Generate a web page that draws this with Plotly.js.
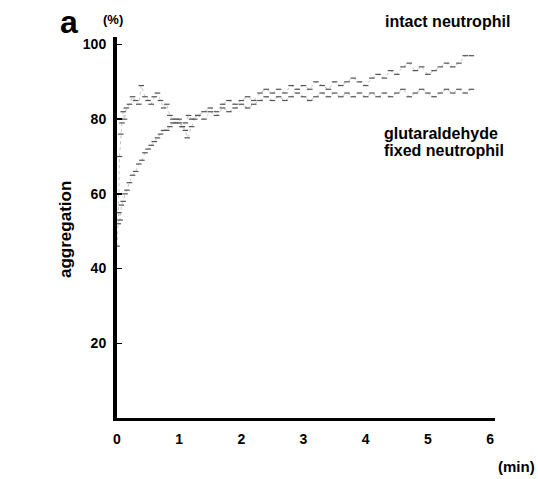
<!DOCTYPE html>
<html>
<head>
<meta charset="utf-8">
<script src="https://cdn.plot.ly/plotly-3.0.1.min.js"></script>
<style>html,body{margin:0;padding:0;background:#fff;}#chart{width:538px;height:479px;}</style>
</head>
<body>
<div id="chart"></div>
<script>
// time (min) and aggregation (%)
const intactTime = [0.0,0.02,0.04,0.06,0.08,0.1,0.12,0.15,0.2,0.25,0.3,0.35,0.39,0.45,0.5,0.55,0.6,0.65,0.7,0.75,0.8,0.85,0.9,0.95,1.0,1.05,1.1,1.15,1.2,1.3,1.4,1.5,1.6,1.7,1.8,1.9,2.0,2.1,2.2,2.3,2.4,2.5,2.6,2.7,2.8,2.9,3.0,3.1,3.2,3.3,3.4,3.5,3.6,3.7,3.8,3.9,4.0,4.1,4.2,4.3,4.4,4.5,4.6,4.7,4.8,4.9,5.0,5.1,5.2,5.3,5.4,5.5,5.6,5.7];
const intactValue = [46,52,70,76,79,82,80,83,84,86,85,84,89,86,85,84,86,87,85,83,84,81,80,79,80,78,79,81,80,81,82,83,82,84,85,84,85,86,85,87,88,87,88,87,89,88,89,88,90,89,88,90,89,90,91,90,89,91,92,91,93,92,94,95,93,94,92,93,94,95,94,95,97,97];
const fixedTime = [0.03,0.05,0.07,0.1,0.13,0.16,0.2,0.25,0.3,0.35,0.4,0.45,0.5,0.55,0.6,0.65,0.7,0.75,0.8,0.85,0.9,0.95,1.0,1.05,1.1,1.13,1.2,1.25,1.3,1.4,1.5,1.6,1.7,1.8,1.9,2.0,2.1,2.2,2.3,2.4,2.5,2.6,2.7,2.8,2.9,3.0,3.1,3.2,3.3,3.4,3.5,3.6,3.7,3.8,3.9,4.0,4.1,4.2,4.3,4.4,4.5,4.6,4.7,4.8,4.9,5.0,5.1,5.2,5.3,5.4,5.5,5.6,5.7];
const fixedValue = [55,53,57,58,60,61,63,65,66,68,69,71,72,73,74,75,76,77,77,78,79,80,79,78,77,75,78,80,81,80,82,81,83,82,83,84,83,84,85,86,85,86,85,86,87,86,85,86,87,86,87,86,87,86,87,86,87,86,87,86,87,88,86,87,88,87,86,87,88,87,88,87,88];
const xTicks = [0,1,2,3,4,5,6];
const yTicks = [20,40,60,80,100];

const FONT = 'Liberation Sans, Arial, sans-serif';
function trace(x, y, name) {
  return {
    x: x, y: y, name: name, type: 'scatter', mode: 'lines+markers',
    line: {color: '#c4c4c4', width: 1, dash: 'dot'},
    marker: {symbol: 'line-ew-open', size: 4, color: '#555', line: {width: 1.2, color: '#555'}},
    showlegend: false, hoverinfo: 'skip'
  };
}
const data = [trace(intactTime, intactValue, 'intact neutrophil'), trace(fixedTime, fixedValue, 'glutaraldehyde fixed neutrophil')];

function ann(text, px, py, size, bold, xanchor, extra) {
  const a = {
    text: text, xref: 'paper', yref: 'paper',
    x: (px - 117) / 378, y: (418 - py) / 381,
    xanchor: xanchor || 'center', yanchor: 'middle', showarrow: false,
    font: {size: size, family: FONT, weight: bold ? 'bold' : 'normal', color: '#000'}
  };
  return Object.assign(a, extra || {});
}

const layout = {
  width: 538, height: 479,
  margin: {l: 117, r: 43, t: 37, b: 61},
  paper_bgcolor: '#fff', plot_bgcolor: '#fff',
  font: {family: FONT, color: '#000'},
  xaxis: {
    range: [0, 6.08], tickvals: xTicks, ticktext: xTicks.map(String),
    showgrid: false, zeroline: false, showline: true, linecolor: '#000', linewidth: 3,
    ticks: '', ticklabelstandoff: 6,
    tickfont: {family: FONT, size: 14, weight: 'bold', color: '#000'}
  },
  yaxis: {
    range: [0, 102], tickvals: yTicks, ticktext: yTicks.map(String),
    showgrid: false, zeroline: false, showline: true, linecolor: '#000', linewidth: 4,
    ticks: 'inside', ticklen: 5, tickwidth: 1.5, tickcolor: '#000', ticklabelstandoff: 4,
    tickfont: {family: FONT, size: 14, weight: 'bold', color: '#000'}
  },
  annotations: [
    ann('a', 69, 22, 32, true),
    ann('(%)', 113, 20, 13, true),
    ann('intact neutrophil', 383, 21, 16, true, 'left'),
    ann('glutaraldehyde', 382, 133, 16, true, 'left'),
    ann('fixed neutrophil', 382, 150, 16, true, 'left'),
    ann('(min)', 516, 466, 15, true),
    ann('aggregation', 65, 230, 17, true, 'center', {textangle: -90})
  ]
};
Plotly.newPlot('chart', data, layout, {displayModeBar: false, staticPlot: true});
</script>
</body>
</html>
